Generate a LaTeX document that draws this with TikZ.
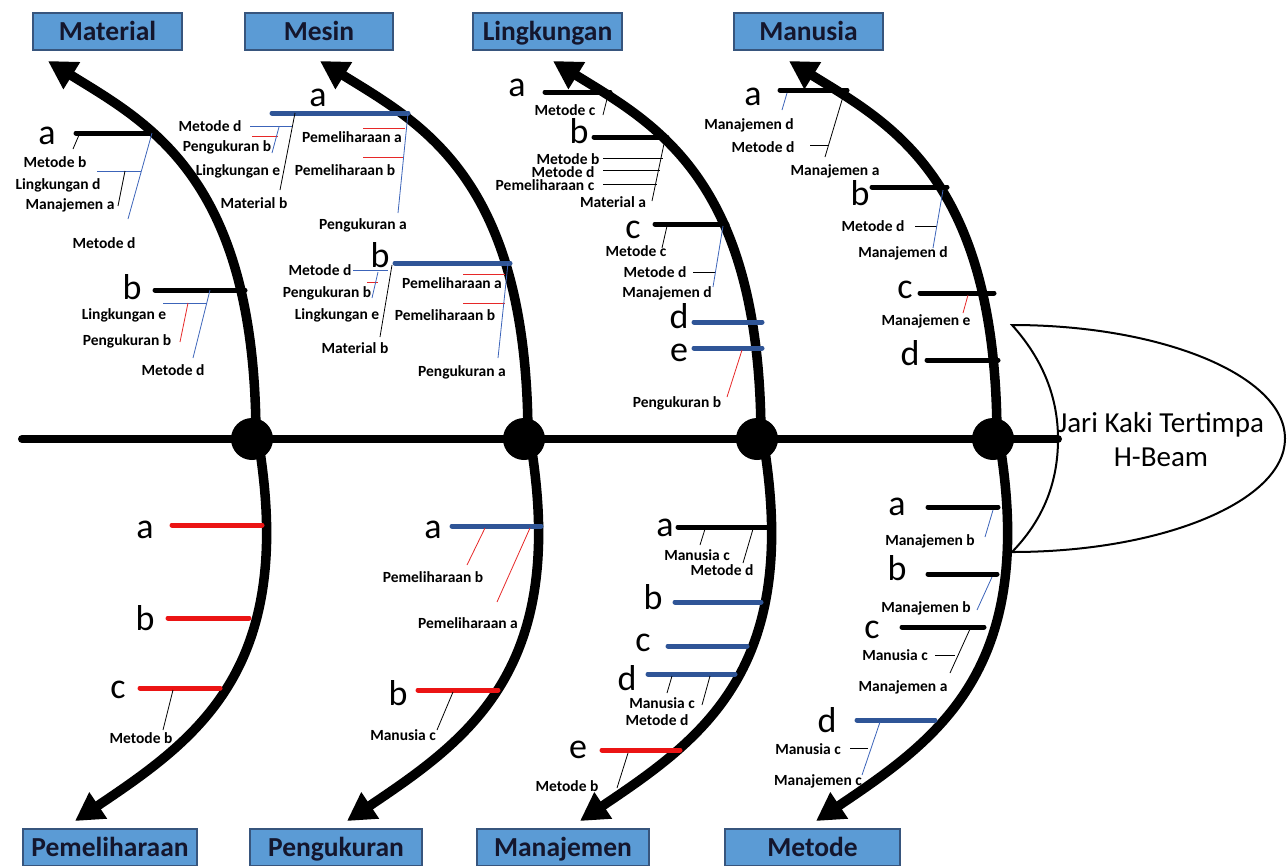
\documentclass[tikz,border=0pt]{standalone}
\usepackage{fontspec}
\setmainfont{Carlito}
\usetikzlibrary{arrows.meta}

\definecolor{boxfill}{RGB}{91,155,213}
\definecolor{boxedge}{RGB}{55,85,125}
\definecolor{boxtext}{RGB}{20,22,45}
\definecolor{bonebl}{RGB}{47,85,151}
\definecolor{bonerd}{RGB}{235,20,20}
\definecolor{twigbl}{RGB}{60,100,185}
\definecolor{twigrd}{RGB}{230,40,40}

\tikzset{
  spine/.style={line width=8pt, line cap=round},
  bone/.style={line width=9.5pt, -{Triangle[length=28pt,width=30pt]}},
  dot/.style={circle, fill=black, minimum size=42pt, inner sep=0pt},
  catbox/.style={draw=boxedge, fill=boxfill, line width=1.2pt, minimum height=37pt, inner sep=0pt,
    text height=18pt, text depth=1pt, font=\fontsize{27.5}{30}\selectfont\bfseries, text=boxtext},
  rib/.style={line width=5pt, line cap=round},
  ribK/.style={rib, draw=black},
  ribB/.style={rib, draw=bonebl},
  ribR/.style={rib, draw=bonerd},
  twigK/.style={line width=0.8pt, draw=black},
  twigB/.style={line width=0.8pt, draw=twigbl},
  twigR/.style={line width=0.8pt, draw=twigrd},
  letter/.style={font=\fontsize{36}{38}\selectfont, inner sep=0pt},
  lbl/.style={font=\fontsize{15.5}{17}\selectfont\bfseries, inner sep=0pt},
  headline/.style={line width=2pt},
}

\begin{document}
\begin{tikzpicture}[x=1pt, y=-1pt]
\useasboundingbox (0,0) rectangle (1287,865);

% spine and head
\coordinate (tail) at (22,439);
\coordinate (hd) at (1058,439);
\draw[spine] (tail) -- (hd);
\draw[headline] (1012,325) .. controls (1048,365) and (1058,405) .. (hd)
  .. controls (1058,475) and (1048,515) .. (1012,552)
  .. controls (1163,552) and (1285,501) .. (1285,438.5)
  .. controls (1285,376) and (1163,325) .. (1012,325) -- cycle;
\node[font=\fontsize{29}{34}\selectfont, align=center] (effect) at (1161,440) {Jari Kaki Tertimpa\\H-Beam};

% bones
\coordinate (j1) at (252,439);
\coordinate (j2) at (524,439);
\coordinate (j3) at (757,439);
\coordinate (j4) at (993,439);
\foreach \j in {j1,j2,j3,j4}{
  \draw[bone, shift={(\j)}] (4,0) .. controls (4,-260) and (-102,-315) .. (-204,-378);
  \draw[bone, shift={(\j)}] (6,0) .. controls (45,230) and (-55,300) .. (-177,382);
  \node[dot] (\j-dot) at (\j) {};
}

% categories
\node[catbox, minimum width=149pt] (material) at (107.5,31.5) {Material};
\node[catbox, minimum width=148pt] (mesin) at (319,31.5) {Mesin};
\node[catbox, minimum width=149pt] (lingkungan) at (547.5,31.5) {Lingkungan};
\node[catbox, minimum width=149pt] (manusia) at (808.5,31.5) {Manusia};
\node[catbox, minimum width=174pt] (pemeliharaan) at (110,847.5) {Pemeliharaan};
\node[catbox, minimum width=172pt] (pengukuran) at (336,847.5) {Pengukuran};
\node[catbox, minimum width=172pt] (manajemen) at (563,847.5) {Manajemen};
\node[catbox, minimum width=175pt] (metode) at (812.5,847.5) {Metode};

% Material
\node[letter] (mat-a) at (47,136) {a};
\draw[ribK] (76,133) -- (152,133);
\draw[twigK] (79,135) -- (73,149);
\draw[twigB] (152,133) -- (128,219);
\draw[twigB] (97,171) -- (141,171);
\draw[twigK] (125,171) -- (118,206);
\node[lbl] (mat-a1) at (55,162) {Metode b};
\node[lbl] (mat-a2) at (58,185) {Lingkungan d};
\node[lbl] (mat-a3) at (70,205) {Manajemen a};
\node[lbl] (mat-a4) at (104,243) {Metode d};
\node[letter] (mat-b) at (132,287) {b};
\draw[ribK] (155,290) -- (245,290);
\draw[twigB] (163,303) -- (207,303);
\draw[twigR] (188,303) -- (180,342);
\draw[twigB] (210,290) -- (193,358);
\node[lbl] (mat-b1) at (124,315) {Lingkungan e};
\node[lbl] (mat-b2) at (127,341) {Pengukuran b};
\node[lbl] (mat-b3) at (173,370) {Metode d};

% Mesin
\node[letter] (mes-a) at (318,98) {a};
\draw[ribB] (272,113) -- (408,113);
\draw[twigB] (250,126) -- (292,126);
\draw[twigR] (252,136) -- (278,136);
\draw[twigB] (279,127) -- (272,153);
\draw[twigK] (295,113) -- (280,190);
\draw[twigB] (408,113) -- (398,213);
\draw[twigR] (363,128) -- (405,128);
\draw[twigR] (363,157) -- (403,157);
\node[lbl] (mes-a1) at (210,126) {Metode d};
\node[lbl] (mes-a2) at (227,147) {Pengukuran b};
\node[lbl] (mes-a3) at (238,171) {Lingkungan e};
\node[lbl] (mes-a4) at (254,203) {Material b};
\node[lbl] (mes-a5) at (352,137) {Pemeliharaan a};
\node[lbl] (mes-a6) at (345,170) {Pemeliharaan b};
\node[lbl] (mes-a7) at (363,225) {Pengukuran a};
\node[letter] (mes-b) at (380,255) {b};
\draw[ribB] (395,263) -- (510,263);
\draw[twigB] (353,270) -- (388,270);
\draw[twigR] (367,282) -- (378,282);
\draw[twigB] (378,272) -- (372,298);
\draw[twigK] (392,265) -- (380,337);
\draw[twigR] (463,274) -- (505,274);
\draw[twigR] (463,303) -- (505,303);
\draw[twigB] (508,263) -- (498,358);
\node[lbl] (mes-b1) at (320,270) {Metode d};
\node[lbl] (mes-b2) at (327,293) {Pengukuran b};
\node[lbl] (mes-b3) at (337,315) {Lingkungan e};
\node[lbl] (mes-b4) at (355,348) {Material b};
\node[lbl] (mes-b5) at (452,283) {Pemeliharaan a};
\node[lbl] (mes-b6) at (445,315) {Pemeliharaan b};
\node[lbl] (mes-b7) at (462,372) {Pengukuran a};

% Lingkungan
\node[letter] (lin-a) at (517,88) {a};
\draw[ribK] (545,92) -- (610,92);
\draw[twigK] (608,95) -- (603,115);
\node[lbl] (lin-a1) at (565,110) {Metode c};
\node[letter] (lin-b) at (579,131) {b};
\draw[ribK] (594,137) -- (667,137);
\draw[twigK] (603,158) -- (663,158);
\draw[twigK] (603,170) -- (660,170);
\draw[twigK] (603,184) -- (657,184);
\draw[twigK] (665,139) -- (652,201);
\node[lbl] (lin-b1) at (568,159) {Metode b};
\node[lbl] (lin-b2) at (563,172) {Metode d};
\node[lbl] (lin-b3) at (545,185) {Pemeliharaan c};
\node[lbl] (lin-b4) at (613,202) {Material a};
\node[letter] (lin-c) at (633,230) {c};
\draw[ribK] (655,224) -- (727,224);
\draw[twigK] (667,226) -- (662,248);
\draw[twigK] (693,272) -- (715,272);
\draw[twigB] (723,226) -- (713,287);
\node[lbl] (lin-c1) at (636,251) {Metode c};
\node[lbl] (lin-c2) at (655,272) {Metode d};
\node[lbl] (lin-c3) at (667,293) {Manajemen d};
\node[letter] (lin-d) at (679,316) {d};
\draw[ribB] (694,322) -- (762,322);
\node[letter] (lin-e) at (679,353) {e};
\draw[ribB] (694,348) -- (762,348);
\draw[twigR] (742,350) -- (727,397);
\node[lbl] (lin-e1) at (677,403) {Pengukuran b};

% Manusia
\node[letter] (man-a) at (753,97) {a};
\draw[ribK] (780,90) -- (847,90);
\draw[twigB] (787,93) -- (782,110);
\draw[twigK] (845,90) -- (825,157);
\draw[twigK] (810,145) -- (828,145);
\node[lbl] (man-a1) at (749,125) {Manajemen d};
\node[lbl] (man-a2) at (763,147) {Metode d};
\node[lbl] (man-a3) at (835,171) {Manajemen a};
\node[letter] (man-b) at (860,193) {b};
\draw[ribK] (872,187) -- (947,187);
\draw[twigK] (915,226) -- (937,226);
\draw[twigB] (943,190) -- (933,248);
\node[lbl] (man-b1) at (873,226) {Metode d};
\node[lbl] (man-b2) at (903,253) {Manajemen d};
\node[letter] (man-c) at (905,290) {c};
\draw[ribK] (920,293) -- (994,293);
\draw[twigR] (968,295) -- (963,313);
\node[lbl] (man-c1) at (926,321) {Manajemen e};
\node[letter] (man-d) at (910,353) {d};
\draw[ribK] (927,360) -- (998,360);

% Pemeliharaan
\node[letter] (pem-a) at (145,530) {a};
\draw[ribR] (172,525) -- (262,525);
\node[letter] (pem-b) at (145,618) {b};
\draw[ribR] (168,618) -- (249,618);
\node[letter] (pem-c) at (118,690) {c};
\draw[ribR] (140,688) -- (220,688);
\draw[twigK] (173,690) -- (163,730);
\node[lbl] (pem-c1) at (141,738) {Metode b};

% Pengukuran
\node[letter] (pen-a) at (433,530) {a};
\draw[ribB] (452,526) -- (541,526);
\draw[twigR] (485,528) -- (467,565);
\draw[twigR] (530,528) -- (497,602);
\node[lbl] (pen-a1) at (433,577) {Pemeliharaan b};
\node[lbl] (pen-a2) at (468,623) {Pemeliharaan a};
\node[letter] (pen-b) at (398,693) {b};
\draw[ribR] (418,690) -- (498,690);
\draw[twigK] (453,692) -- (437,730);
\node[lbl] (pen-b1) at (403,735) {Manusia c};

% Manajemen
\node[letter] (mnj-a) at (665,528) {a};
\draw[ribK] (678,527) -- (769,527);
\draw[twigK] (705,529) -- (700,545);
\draw[twigK] (753,529) -- (743,563);
\node[lbl] (mnj-a1) at (697,555) {Manusia c};
\node[lbl] (mnj-a2) at (722,570) {Metode d};
\node[letter] (mnj-b) at (653,597) {b};
\draw[ribB] (675,602) -- (761,602);
\node[letter] (mnj-c) at (643,643) {c};
\draw[ribB] (668,646) -- (747,646);
\node[letter] (mnj-d) at (627,678) {d};
\draw[ribB] (648,674) -- (735,674);
\draw[twigK] (672,676) -- (667,693);
\draw[twigK] (710,676) -- (702,705);
\node[lbl] (mnj-d1) at (662,703) {Manusia c};
\node[lbl] (mnj-d2) at (657,720) {Metode d};
\node[letter] (mnj-e) at (578,750) {e};
\draw[ribR] (602,750) -- (680,750);
\draw[twigK] (628,753) -- (617,788);
\node[lbl] (mnj-e1) at (567,786) {Metode b};

% Metode
\node[letter] (met-a) at (897,507) {a};
\draw[ribK] (928,507) -- (998,507);
\draw[twigB] (993,510) -- (985,537);
\node[lbl] (met-a1) at (930,541) {Manajemen b};
\node[letter] (met-b) at (897,568) {b};
\draw[ribK] (928,574) -- (997,574);
\draw[twigB] (992,577) -- (977,610);
\node[lbl] (met-b1) at (926,608) {Manajemen b};
\node[letter] (met-c) at (872,630) {c};
\draw[ribK] (902,627) -- (984,627);
\draw[twigK] (970,629) -- (950,673);
\draw[twigK] (935,655) -- (955,655);
\node[lbl] (met-c1) at (895,655) {Manusia c};
\node[lbl] (met-c2) at (903,687) {Manajemen a};
\node[letter] (met-d) at (827,720) {d};
\draw[ribB] (857,720) -- (935,720);
\draw[twigB] (880,722) -- (862,775);
\draw[twigK] (850,748) -- (868,748);
\node[lbl] (met-d1) at (808,749) {Manusia c};
\node[lbl] (met-d2) at (818,781) {Manajemen c};
\end{tikzpicture}
\end{document}
